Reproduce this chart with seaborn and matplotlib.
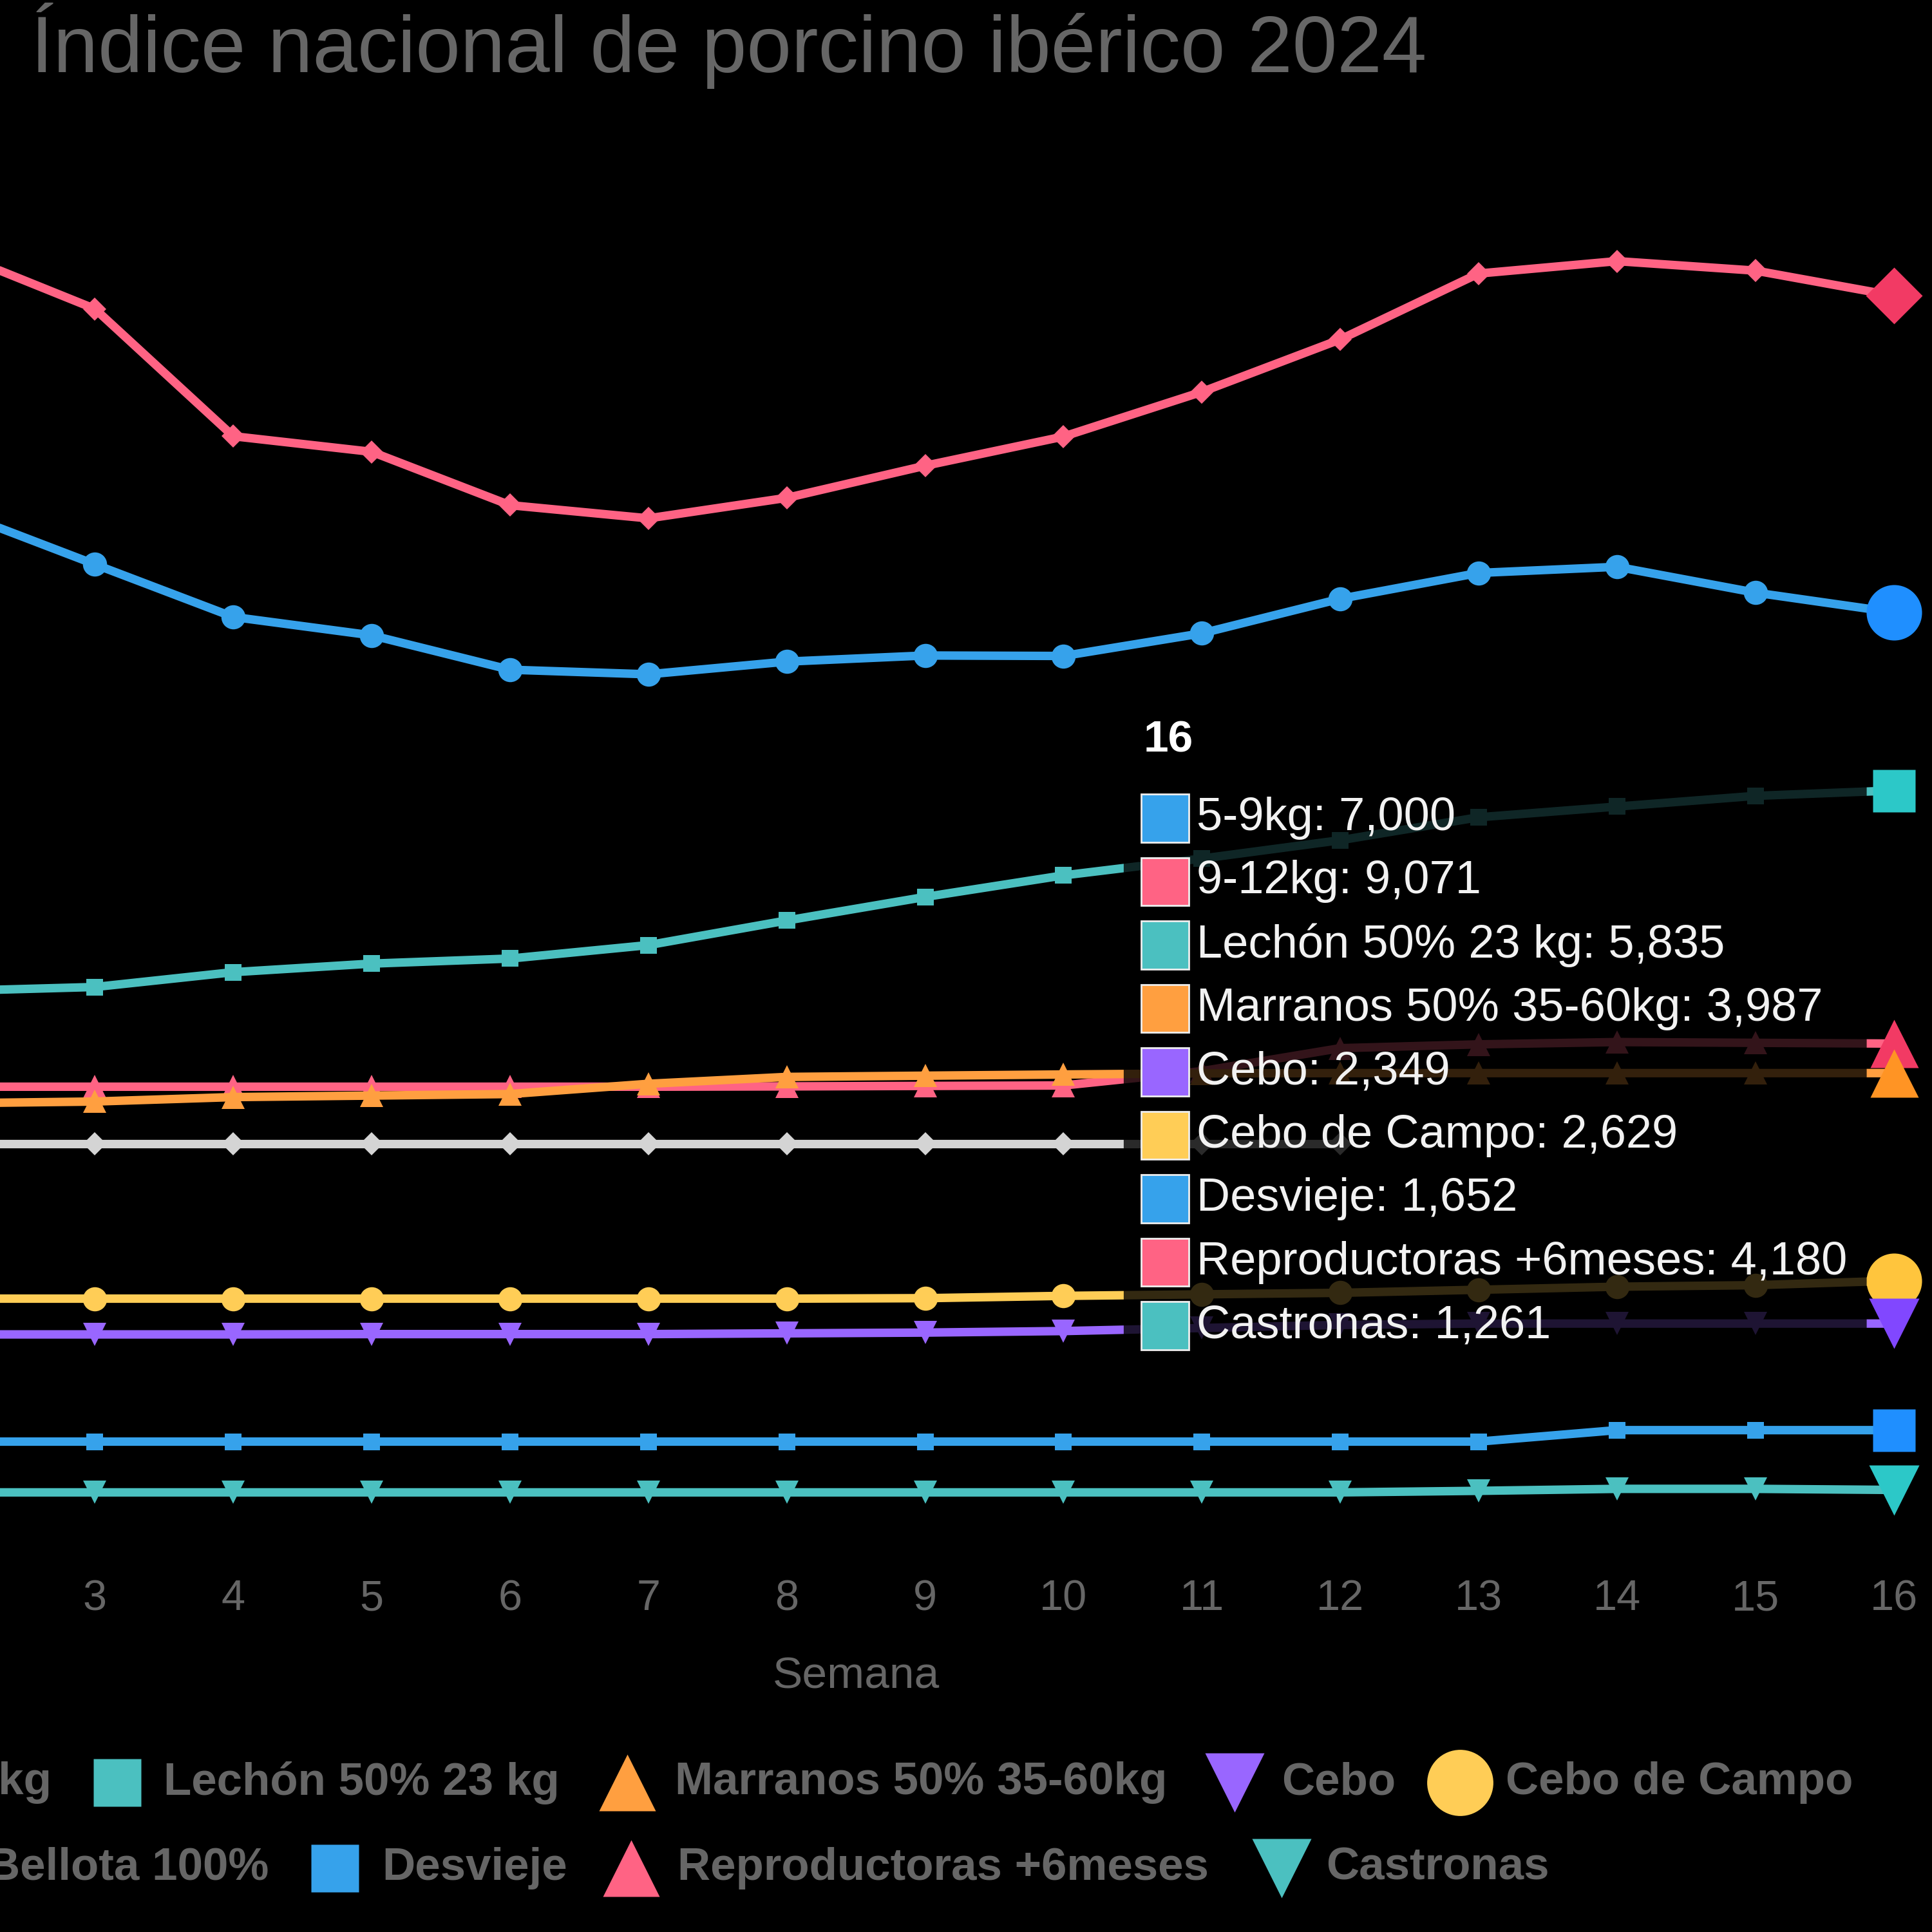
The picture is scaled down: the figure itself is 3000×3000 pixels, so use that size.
import matplotlib
matplotlib.use("Agg")
import matplotlib.pyplot as plt
import numpy as np
import pandas as pd
import seaborn as sns
from matplotlib.lines import Line2D
from matplotlib.patches import Rectangle, FancyBboxPatch

# semanas (la 1 queda fuera del recorte)
weeks = [2, 3, 4, 5, 6, 7, 8, 9, 10, 11, 12, 13, 14, 15, 16]

# precios por semana
kg_5_9 = [7660, 7314, 6970, 6850, 6625, 6595, 6678, 6718, 6715, 6863, 7089, 7258, 7298, 7129, 7000]
kg_9_12 = [9350, 8985, 8152, 8050, 7701, 7615, 7749, 7959, 8150, 8442, 8785, 9216, 9297, 9235, 9071]
lechon_50 = [4525, 4550, 4647, 4703, 4736, 4824, 4985, 5139, 5280, 5390, 5510, 5660, 5730, 5800, 5835]
marranos_50 = [3790, 3801, 3830, 3840, 3850, 3917, 3962, 3970, 3978, 3985, 3987, 3987, 3987, 3987, 3987]
cebo = [2278, 2278, 2278, 2280, 2280, 2280, 2285, 2290, 2300, 2320, 2340, 2349, 2349, 2349, 2349]
cebo_campo = [2512, 2512, 2512, 2512, 2512, 2512, 2512, 2515, 2530, 2540, 2550, 2570, 2590, 2600, 2629]
bellota_100 = [3527, 3527, 3527, 3527, 3527, 3527, 3527, 3527, 3527, 3527, 3527, np.nan, np.nan, np.nan, np.nan]
desvieje = [1577, 1577, 1577, 1577, 1577, 1577, 1577, 1577, 1577, 1577, 1577, 1577, 1652, 1652, 1652]
reproductoras = [3898, 3898, 3898, 3898, 3898, 3898, 3900, 3903, 3906, 4000, 4150, 4175, 4190, 4185, 4180]
castronas = [1245, 1245, 1245, 1245, 1245, 1245, 1245, 1245, 1245, 1245, 1245, 1255, 1268, 1268, 1261]

names = ['5-9kg', '9-12kg', 'Lechón 50% 23 kg', 'Marranos 50% 35-60kg', 'Cebo',
         'Cebo de Campo', 'Bellota 100%', 'Desvieje', 'Reproductoras +6meses', 'Castronas']
series = [kg_5_9, kg_9_12, lechon_50, marranos_50, cebo, cebo_campo, bellota_100,
          desvieje, reproductoras, castronas]

# estilo tipo chart.js
colors = ['#36A2EB', '#FF6384', '#4BC0C0', '#FF9F40', '#9966FF', '#FFCD56', '#D4D4D4',
          '#36A2EB', '#FF6384', '#4BC0C0']
hover_colors = ['#1f8fff', '#f23a64', '#2cc8c8', '#ff9424', '#8147ff', '#ffc53d', '#d4d4d4',
                '#1f8fff', '#f23a64', '#2cc8c8']
markers = ['o', 'D', 's', '^', 'v', 'o', 'D', 's', '^', 'v']
small_ms = {'o': 27, 'D': 18, 's': 19, '^': 26, 'v': 26}
hover_ms = {'o': 62, 'D': 45, 's': 48, '^': 54, 'v': 56}

sns.set_theme(style='dark', rc={'axes.facecolor': 'black', 'figure.facecolor': 'black'})
plt.rcParams['font.family'] = ['Liberation Sans', 'DejaVu Sans']

GREY = '#666666'
W = 1568.0  # unidades de maquetacion


def fx(px):
    return px / W


def fy(py):
    return 1 - py / W


fig = plt.figure(figsize=(30, 30), dpi=100)
ax = fig.add_axes([0, fy(1262), 1, (1262 - 100) / W])

for i, (name, vals) in enumerate(zip(names, series)):
    df = pd.DataFrame({'semana': weeks, 'valor': vals}).dropna()
    z = 3 + (10 - i) * 0.01
    sns.lineplot(data=df, x='semana', y='valor', ax=ax, color=colors[i], linewidth=9.5,
                 marker=markers[i], markersize=small_ms[markers[i]], markeredgewidth=0,
                 legend=False, zorder=z)
    # punto activo (hover) en la ultima semana
    if not np.isnan(vals[-1]):
        ax.plot([weeks[-1]], [vals[-1]], marker=markers[i], ms=hover_ms[markers[i]],
                color=hover_colors[i], mec='none', ls='none', zorder=z + 1, clip_on=False)

ax.set_xlim(2.3144, 16.276)
ax.set_ylim(7000 - (1262 - 497) / 0.1241, 7000 + (497 - 100) / 0.1241)
ax.set_xticks(range(3, 17))
ax.set_yticks([])
ax.tick_params(axis='x', length=0, pad=27, labelsize=48, labelcolor=GREY)
ax.set_xlabel('')
ax.set_ylabel('')
ax.grid(False)
for s in ax.spines.values():
    s.set_visible(False)

# titulo y eje
fig.text(fx(25), fy(37), 'Índice nacional de porcino ibérico 2024', color=GREY,
         fontsize=90, ha='left', va='center')
fig.text(fx(695), fy(1361), 'Semana', color=GREY, fontsize=50, ha='center', va='center')

# tooltip de la semana 16
tip = FancyBboxPatch((fx(912), fy(1105)), fx(1515) - fx(912), (1105 - 578) / W,
                     boxstyle='round,pad=0,rounding_size=0.004', transform=fig.transFigure,
                     fc='black', ec='none', alpha=0.8, zorder=10)
fig.add_artist(tip)
fig.text(fx(928), fy(601), str(weeks[-1]), color='white', fontsize=50, fontweight='bold',
         ha='left', va='center', zorder=11)
k = 0
for i, (name, vals) in enumerate(zip(names, series)):
    if np.isnan(vals[-1]):
        continue
    yc = 664 + k * 51.5
    fig.add_artist(Rectangle((fx(926), fy(yc + 19.5)), fx(39), 39 / W, transform=fig.transFigure,
                             fc=colors[i], ec='#eeeeee', lw=2, zorder=11))
    fig.text(fx(971), fy(yc), f'{name}: {int(vals[-1]):,}', color='#f2f2f2', fontsize=52,
             ha='left', va='center', zorder=11)
    k += 1

# leyenda (recortada a la izquierda como en la captura)
legend_items = [
    # (indice serie, x marcador, x texto, y fila)
    (2, 95, 133, 1447), (3, 509, 548, 1447), (4, 1002, 1040, 1447), (5, 1185, 1222, 1447),
    (7, 272, 310, 1516), (8, 512, 550, 1516), (9, 1040, 1076, 1516),
]
leg_ms = {'s': 53, '^': 64, 'v': 66, 'o': 74}
for i, mx, tx, yy in legend_items:
    m = markers[i]
    fig.add_artist(Line2D([fx(mx)], [fy(yy)], transform=fig.transFigure, marker=m,
                          ms=leg_ms[m], color=colors[i], mec='none', ls='none'))
    fig.text(fx(tx), fy(yy), names[i], color=GREY, fontsize=51, fontweight='bold',
             ha='left', va='center')
fig.text(fx(42), fy(1447), names[1], color=GREY, fontsize=51, fontweight='bold',
         ha='right', va='center')
fig.text(fx(218), fy(1516), names[6], color=GREY, fontsize=51, fontweight='bold',
         ha='right', va='center')

fig.savefig('out.png', dpi=100, facecolor='black')
